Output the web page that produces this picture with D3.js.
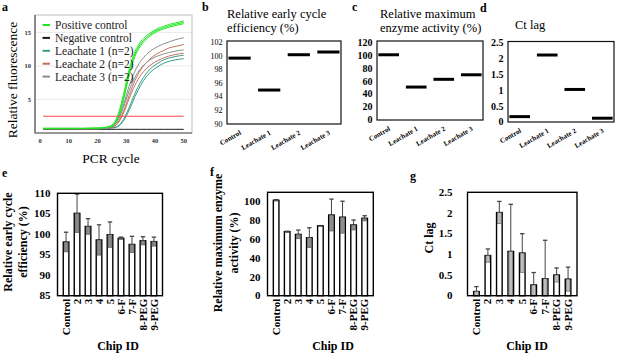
<!DOCTYPE html>
<html>
<head>
<meta charset="utf-8">
<script src="https://cdn.jsdelivr.net/npm/d3@7"></script>
<style>
    body { margin: 0; background: #fff; }
    svg { display: block; }
    svg text { font-family: 'Liberation Serif', 'Times New Roman', 'DejaVu Serif', serif; }
</style>
</head>
<body>
<svg id="chart" width="617" height="354"></svg>
<script>
// ---- panel a: amplification curves ----
const cycles = [1, 5, 10, 15, 20, 23, 25, 27, 29, 31, 33, 35, 37, 39, 41, 43, 45, 47, 50];
const positive1 = [0.7, 0.7, 0.7, 0.7, 0.75, 0.85, 1.2, 2.6, 5.7, 9.5, 12.1, 13.6, 14.5, 15.1, 15.6, 15.9, 16.2, 16.4, 16.7];
const positive2 = [0.7, 0.7, 0.7, 0.7, 0.75, 0.85, 1.1, 2.3, 5.2, 9.0, 11.7, 13.3, 14.2, 14.9, 15.4, 15.7, 16.0, 16.2, 16.5];
const positive3 = [0.65, 0.65, 0.65, 0.65, 0.7, 0.8, 1.0, 2.1, 4.8, 8.6, 11.4, 13.0, 14.0, 14.7, 15.2, 15.5, 15.8, 16.0, 16.3];
const negative = [0.55, 0.55, 0.55, 0.55, 0.55, 0.55, 0.55, 0.55, 0.55, 0.55, 0.55, 0.55, 0.55, 0.55, 0.55, 0.55, 0.55, 0.55, 0.55];
const leachate1a = [0.65, 0.65, 0.65, 0.65, 0.65, 0.7, 0.75, 1.0, 2.0, 3.8, 5.9, 7.6, 8.9, 9.8, 10.4, 10.9, 11.2, 11.4, 11.6];
const leachate1b = [0.65, 0.65, 0.65, 0.65, 0.65, 0.7, 0.75, 0.95, 1.8, 3.4, 5.4, 7.1, 8.4, 9.3, 9.9, 10.4, 10.7, 10.9, 11.1];
const leachate2a = [0.65, 0.65, 0.65, 0.65, 0.65, 0.7, 0.9, 1.5, 3.2, 5.6, 7.8, 9.4, 10.5, 11.3, 11.9, 12.3, 12.7, 12.9, 13.2];
const leachate2b = [0.65, 0.65, 0.65, 0.65, 0.65, 0.7, 0.85, 1.4, 2.9, 5.1, 7.1, 8.6, 9.6, 10.3, 10.8, 11.2, 11.5, 11.7, 11.9];
const leachate3a = [0.65, 0.65, 0.65, 0.65, 0.65, 0.75, 1.0, 2.0, 4.2, 7.0, 9.2, 10.7, 11.7, 12.4, 12.9, 13.3, 13.6, 13.9, 14.2];
const leachate3b = [0.65, 0.65, 0.65, 0.65, 0.65, 0.75, 0.95, 1.8, 3.8, 6.3, 8.3, 9.6, 10.5, 11.1, 11.5, 11.8, 12.0, 12.2, 12.4];
const threshold = 2.5;
const legendNames = ['Positive control', 'Negative control', 'Leachate 1 (n=2)', 'Leachate 2 (n=2)', 'Leachate 3 (n=2)'];
const legendColors = ['#22e622', '#1a1a1a', '#3a9c86', '#c0725f', '#8c8c8c'];

// ---- panels b-d: single values per sample ----
const leachateCats = ['Control', 'Leachate 1', 'Leachate 2', 'Leachate 3'];
const earlyEfficiency = [99.7, 95.0, 100.2, 100.6];
const maxActivity = [101, 51, 63, 70];
const ctLag = [0.17, 2.12, 1.03, 0.12];

// ---- panels e-g: chips, mean and sd ----
const chipIds = ['Control', '2', '3', '4', '5', '6-F', '7-F', '8-PEG', '9-PEG'];
const chipEfficiency = [98.1, 105.1, 101.9, 98.6, 99.9, 99.0, 97.5, 98.4, 98.2];
const chipEfficiencySd = [2.4, 4.7, 1.9, 3.7, 3.1, 0.3, 2.0, 1.0, 1.1];
const chipActivity = [101.5, 68.1, 65.2, 61.7, 74.3, 85.8, 83.5, 75.2, 82.3];
const chipActivitySd = [0.5, 0.5, 4.6, 10.6, 0.3, 17.0, 17.0, 5.3, 2.8];
const chipCtLag = [0.1, 0.97, 2.01, 1.07, 1.03, 0.26, 0.41, 0.5, 0.4];
const chipCtLagSd = [0.12, 0.16, 0.27, 1.14, 0.47, 0.3, 0.93, 0.17, 0.29];

const svg = d3.select('#chart');

function panelLabel(text, x, y) {
    svg.append('text')
        .attr('x', x).attr('y', y)
        .attr('font-size', 12).attr('font-weight', 'bold')
        .text(text);
}

/**
 * panel a
 */
function drawAmplification() {
    const x = d3.scaleLinear().domain([-1.8, 52.9]).range([35, 192]);
    const y = d3.scaleLinear().domain([0, 17.6]).range([133, 15]);
    const g = svg.append('g');

    // grid
    g.selectAll('line.grid')
        .data([5, 10, 15])
        .enter().append('line')
        .attr('x1', 35).attr('x2', 192)
        .attr('y1', d => y(d)).attr('y2', d => y(d))
        .attr('stroke', '#e4e4e4').attr('stroke-width', 0.8);

    g.append('rect')
        .attr('x', 35).attr('y', 15).attr('width', 157).attr('height', 118)
        .attr('fill', 'none').attr('stroke', '#bdbdbd').attr('stroke-width', 1);
    g.append('path')
        .attr('d', 'M35,15V133H192')
        .attr('fill', 'none').attr('stroke', '#555').attr('stroke-width', 1.2);

    // tick labels
    g.selectAll('text.xt')
        .data([0, 10, 20, 30, 40, 50])
        .enter().append('text')
        .attr('x', d => x(d)).attr('y', 143)
        .attr('text-anchor', 'middle')
        .attr('font-size', 6.5).attr('font-weight', 'bold').attr('fill', '#333')
        .text(d => d);
    g.selectAll('text.yt')
        .data([5, 10, 15])
        .enter().append('text')
        .attr('x', 31).attr('y', d => y(d) + 2.3)
        .attr('text-anchor', 'end')
        .attr('font-size', 6.5).attr('font-weight', 'bold').attr('fill', '#333')
        .text(d => d);

    const line = d3.line()
        .x((d, i) => x(cycles[i]))
        .y(d => y(d))
        .curve(d3.curveMonotoneX);

    const series = [
        [negative, legendColors[1]],
        [leachate1a, legendColors[2]], [leachate1b, legendColors[2]],
        [leachate2a, legendColors[3]], [leachate2b, legendColors[3]],
        [leachate3a, legendColors[4]], [leachate3b, legendColors[4]],
        [positive3, legendColors[0]], [positive2, legendColors[0]], [positive1, legendColors[0]]
    ];
    g.selectAll('path.curve')
        .data(series)
        .enter().append('path')
        .attr('d', d => line(d[0]))
        .attr('fill', 'none')
        .attr('stroke', d => d[1])
        .attr('stroke-width', 1);

    g.append('line')
        .attr('x1', x(1)).attr('x2', x(50))
        .attr('y1', y(threshold)).attr('y2', y(threshold))
        .attr('stroke', '#ff4a4a').attr('stroke-width', 1);

    // legend
    const leg = g.selectAll('g.leg')
        .data(legendNames)
        .enter().append('g')
        .attr('transform', (d, i) => `translate(0,${25 + i * 12.9})`);
    leg.append('line')
        .attr('x1', 42.5).attr('x2', 50)
        .attr('stroke', (d, i) => legendColors[i]).attr('stroke-width', 2);
    leg.append('text')
        .attr('x', 55).attr('y', 4)
        .attr('font-size', 11.5).attr('fill', '#222')
        .text(d => d);

    g.append('text')
        .attr('x', 111).attr('y', 163)
        .attr('text-anchor', 'middle').attr('font-size', 13.5)
        .text('PCR cycle');
    g.append('text')
        .attr('transform', 'translate(17,80) rotate(-90)')
        .attr('text-anchor', 'middle').attr('font-size', 13.5)
        .text('Relative fluorescence');
}

/**
 * panels b-d: one level line per sample
 */
function drawLevels(opt) {
    const g = svg.append('g');
    const x = d3.scaleBand().domain(leachateCats)
        .range([opt.x0, opt.x1]).paddingInner(0.25).paddingOuter(0.05);
    const y = d3.scaleLinear().domain(opt.domain).range([opt.y1, opt.y0 + 1.5]);

    g.append('rect')
        .attr('x', opt.x0).attr('y', opt.y0)
        .attr('width', opt.x1 - opt.x0).attr('height', opt.y1 - opt.y0)
        .attr('fill', 'none').attr('stroke', '#111').attr('stroke-width', 1.2);

    g.selectAll('text.yt')
        .data(opt.ticks)
        .enter().append('text')
        .attr('x', opt.x0 - 4.5).attr('y', d => y(d) + opt.tickSize * 0.33)
        .attr('text-anchor', 'end')
        .attr('font-size', opt.tickSize).attr('font-weight', opt.tickWeight)
        .text(opt.tickFmt);

    g.selectAll('line.level')
        .data(opt.values)
        .enter().append('line')
        .attr('x1', (d, i) => x(leachateCats[i]))
        .attr('x2', (d, i) => x(leachateCats[i]) + x.bandwidth())
        .attr('y1', d => y(d)).attr('y2', d => y(d))
        .attr('stroke', '#000').attr('stroke-width', 3);

    g.selectAll('text.cat')
        .data(leachateCats)
        .enter().append('text')
        .attr('transform', d => `translate(${x(d) + x.bandwidth() / 2 + 2},${opt.y1 + 10}) rotate(-30)`)
        .attr('text-anchor', 'end')
        .attr('font-size', 7).attr('font-weight', 'bold')
        .text(d => d);

    opt.title.forEach((t, i) => {
        g.append('text')
            .attr('x', opt.titleX).attr('y', opt.titleY + i * 13.5)
            .attr('font-size', 12.5)
            .text(t);
    });
}

/**
 * panels e-g: bars with sd
 */
function drawBars(opt) {
    const g = svg.append('g');
    const x = d3.scalePoint().domain(chipIds).range([opt.x0, opt.x1]).padding(0.78);
    const y = d3.scaleLinear().domain(opt.domain).range([opt.y1, opt.y0]);
    const barW = 5.6;

    g.selectAll('text.yt')
        .data(opt.ticks)
        .enter().append('text')
        .attr('x', opt.x0 - opt.tickGap).attr('y', d => y(d) + 3.6)
        .attr('text-anchor', 'end')
        .attr('font-size', 11).attr('font-weight', 'bold')
        .text(opt.tickFmt);

    // whiskers (upper half)
    opt.values.forEach((v, i) => {
        const cx = x(chipIds[i]);
        const top = y(v + opt.sd[i]);
        g.append('line')
            .attr('x1', cx).attr('x2', cx)
            .attr('y1', y(v)).attr('y2', top)
            .attr('stroke', '#444').attr('stroke-width', 1);
        g.append('line')
            .attr('x1', cx - 2.2).attr('x2', cx + 2.2)
            .attr('y1', top).attr('y2', top)
            .attr('stroke', '#444').attr('stroke-width', 1.3);
    });

    g.selectAll('rect.bar')
        .data(opt.values)
        .enter().append('rect')
        .attr('x', (d, i) => x(chipIds[i]) - barW / 2)
        .attr('y', d => y(d))
        .attr('width', barW)
        .attr('height', d => opt.y1 - y(d))
        .attr('fill', '#fff').attr('stroke', '#000').attr('stroke-width', 1.4);

    // lower half of sd drawn as a grey box on the bar
    g.selectAll('rect.sd')
        .data(opt.values)
        .enter().append('rect')
        .attr('x', (d, i) => x(chipIds[i]) - 1.9)
        .attr('y', d => y(d))
        .attr('width', 3.8)
        .attr('height', (d, i) => Math.max(0.8, y(Math.max(opt.domain[0], d - opt.sd[i])) - y(d)))
        .attr('fill', opt.sdFill).attr('stroke', '#555').attr('stroke-width', 0.6);

    g.append('rect')
        .attr('x', opt.x0).attr('y', opt.y0)
        .attr('width', opt.x1 - opt.x0).attr('height', opt.y1 - opt.y0)
        .attr('fill', 'none').attr('stroke', '#000').attr('stroke-width', 1.4);

    g.selectAll('text.cat')
        .data(chipIds)
        .enter().append('text')
        .attr('transform', d => `translate(${x(d) + 3.6},${opt.y1 + 3}) rotate(-90)`)
        .attr('text-anchor', 'end')
        .attr('font-size', 11).attr('font-weight', 'bold')
        .text(d => d);

    g.append('text')
        .attr('x', opt.chipX).attr('y', 350)
        .attr('text-anchor', 'middle')
        .attr('font-size', 12).attr('font-weight', 'bold')
        .text('Chip ID');

    opt.ylabel.forEach((t, i) => {
        g.append('text')
            .attr('transform', `translate(${opt.labelX[i]},${opt.labelY}) rotate(-90)`)
            .attr('text-anchor', 'middle')
            .attr('font-size', 12).attr('font-weight', 'bold')
            .text(t);
    });
}

drawAmplification();

drawLevels({
    x0: 227, x1: 341, y0: 41, y1: 124,
    domain: [90, 102], ticks: d3.range(90, 103, 2), tickFmt: d => d,
    tickSize: 8, tickWeight: 'normal',
    values: earlyEfficiency,
    title: ['Relative early cycle', 'efficiency (%)'], titleX: 227, titleY: 18
});
drawLevels({
    x0: 377, x1: 483, y0: 41, y1: 120,
    domain: [0, 120], ticks: d3.range(0, 121, 20), tickFmt: d => d,
    tickSize: 10, tickWeight: 'bold',
    values: maxActivity,
    title: ['Relative maximum', 'enzyme activity (%)'], titleX: 380, titleY: 18
});
drawLevels({
    x0: 508, x1: 614, y0: 41.5, y1: 122,
    domain: [0, 2.5], ticks: d3.range(0, 2.51, 0.5), tickFmt: d => d,
    tickSize: 10, tickWeight: 'bold',
    values: ctLag,
    title: ['Ct lag'], titleX: 515, titleY: 29
});

drawBars({
    x0: 57.5, x1: 162.5, y0: 193.3, y1: 295.7,
    domain: [85, 110], ticks: d3.range(85, 111, 5), tickFmt: d => d, tickGap: 7,
    values: chipEfficiency, sd: chipEfficiencySd, sdFill: '#8a8a8a',
    chipX: 118, ylabel: ['Relative early cycle', 'efficiency (%)'], labelX: [12, 27], labelY: 242
});
drawBars({
    x0: 267.5, x1: 373.3, y0: 192.3, y1: 295.7,
    domain: [0, 110], ticks: d3.range(0, 101, 20), tickFmt: d => d, tickGap: 7,
    values: chipActivity, sd: chipActivitySd, sdFill: '#8e8e8e',
    chipX: 333, ylabel: ['Relative maximum enzyme', 'activity (%)'], labelX: [222, 238], labelY: 243
});
drawBars({
    x0: 467.5, x1: 577, y0: 192.3, y1: 295.7,
    domain: [0, 2.5], ticks: d3.range(0, 2.51, 0.5), tickFmt: d => d, tickGap: 15,
    values: chipCtLag, sd: chipCtLagSd, sdFill: '#bdbdbd',
    chipX: 527, ylabel: ['Ct lag'], labelX: [433], labelY: 238
});

panelLabel('a', 2, 11);
panelLabel('b', 202, 11);
panelLabel('c', 352, 11);
panelLabel('d', 480, 12);
panelLabel('e', 2, 177);
panelLabel('f', 210, 176);
panelLabel('g', 410, 180);
</script>
</body>
</html>
